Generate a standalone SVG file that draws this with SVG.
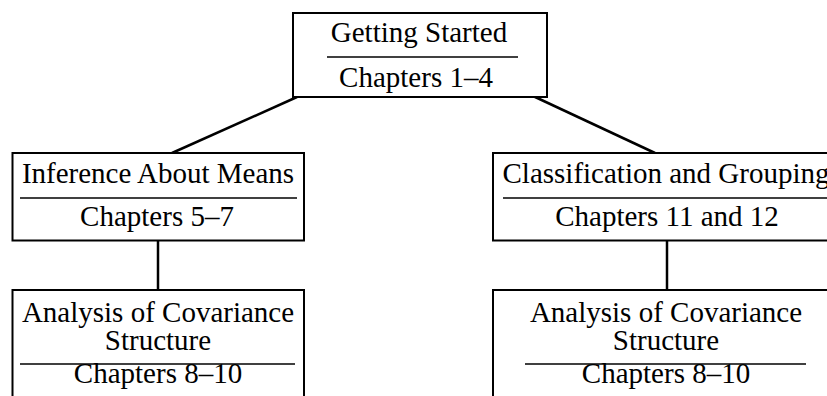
<svg xmlns="http://www.w3.org/2000/svg" width="827" height="396" viewBox="0 0 827 396">
<style>
.box{fill:#fff;stroke:#000;stroke-width:2}
.div{stroke:#000;stroke-width:1.5}
.t{font-family:"Liberation Serif","Times New Roman",serif;font-size:29px;fill:#000;text-anchor:middle}
.c{stroke:#000;stroke-width:2.5;fill:none}
</style>
<rect width="827" height="396" fill="#fff"/>
<g id="connectors">
<line class="c" x1="297" y1="97" x2="172" y2="153"/>
<line class="c" x1="533" y1="96" x2="655" y2="153"/>
<line class="c" x1="158" y1="241" x2="158" y2="290"/>
<line class="c" x1="667" y1="241" x2="667" y2="290"/>
</g>
<g id="getting-started">
<rect class="box" x="293" y="13" width="254" height="84"/>
<line class="div" x1="327" y1="57" x2="518" y2="57"/>
<text class="t" x="419" y="42">Getting Started</text>
<text class="t" x="416" y="87">Chapters 1–4</text>
</g>
<g id="inference">
<rect class="box" x="12.5" y="153" width="291.5" height="87.5"/>
<line class="div" x1="20" y1="198" x2="297" y2="198"/>
<text class="t" x="158" y="183">Inference About Means</text>
<text class="t" x="157" y="226">Chapters 5–7</text>
</g>
<g id="classification">
<rect class="box" x="493" y="153" width="348" height="87.5"/>
<line class="div" x1="503" y1="198" x2="830" y2="198"/>
<text class="t" x="666" y="183">Classification and Grouping</text>
<text class="t" x="667" y="226">Chapters 11 and 12</text>
</g>
<g id="covariance-left">
<rect class="box" x="12.5" y="290" width="291.5" height="120"/>
<line class="div" x1="20" y1="364" x2="295" y2="364"/>
<text class="t" x="158" y="322">Analysis of Covariance</text>
<text class="t" x="158" y="350">Structure</text>
<text class="t" x="158" y="383">Chapters 8–10</text>
</g>
<g id="covariance-right">
<rect class="box" x="493" y="290" width="348" height="120"/>
<line class="div" x1="525" y1="364" x2="806" y2="364"/>
<text class="t" x="666" y="322">Analysis of Covariance</text>
<text class="t" x="666" y="350">Structure</text>
<text class="t" x="666" y="383">Chapters 8–10</text>
</g>
</svg>
